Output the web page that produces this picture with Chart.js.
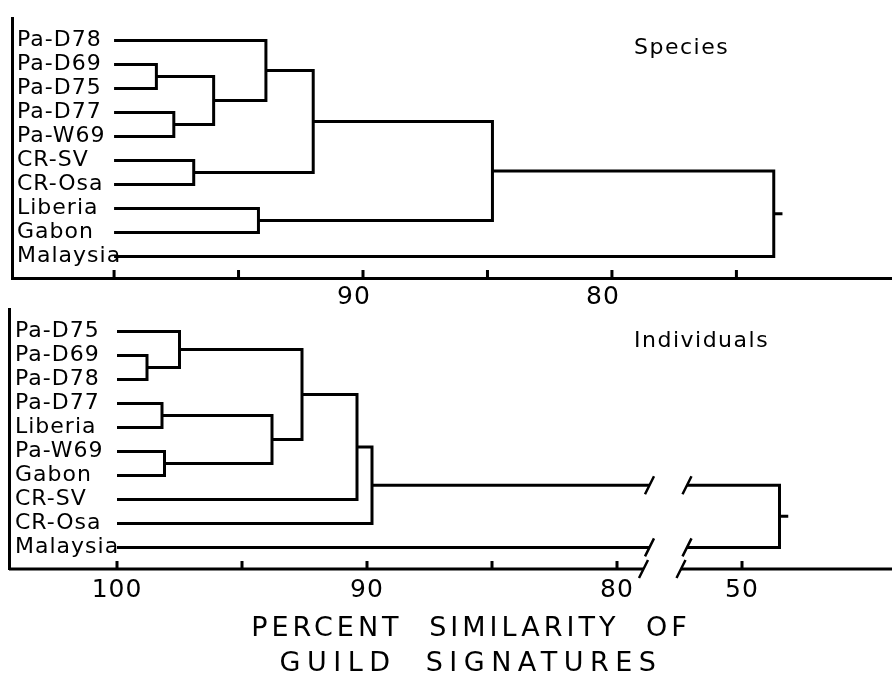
<!DOCTYPE html>
<html>
<head>
<meta charset="utf-8">
<script src="https://cdn.jsdelivr.net/npm/chart.js@4.4.1/dist/chart.umd.min.js"></script>
<style>
  body { margin: 0; background: #fff; width: 892px; height: 676px; position: relative; overflow: hidden; font-family: "DejaVu Sans", sans-serif; color: #000; }
  canvas { position: absolute; left: 0; }
  #top { top: 0; }
  #bot { top: 290px; }
  .tag { position: absolute; left: 634px; font-size: 22px; line-height: 22px; letter-spacing: 1.5px; }
  #axisTitle { position: absolute; left: 0; width: 942px; top: 609px; text-align: center; font-size: 27px; line-height: 35px; word-spacing: 14px; }
  #axisTitle span { display: block; }
</style>
</head>
<body>
<canvas id="top" width="892" height="312"></canvas>
<canvas id="bot" width="892" height="310"></canvas>
<div class="tag" style="top:36px">Species</div>
<div class="tag" style="top:329px">Individuals</div>
<div id="axisTitle"><span style="letter-spacing:4px">PERCENT SIMILARITY OF</span><span style="letter-spacing:6.5px">GUILD SIGNATURES</span></div>
<script>
// leaves in printed order, top to bottom
const speciesLeaves = ['Pa-D78', 'Pa-D69', 'Pa-D75', 'Pa-D77', 'Pa-W69', 'CR-SV', 'CR-Osa', 'Liberia', 'Gabon', 'Malaysia'];
// merges: [node a, node b, % similarity]; node < 10 is a leaf, 10 + k is merge k
const speciesMerges = [[1, 2, 98.3], [3, 4, 97.6], [5, 6, 96.8], [10, 11, 96.0], [7, 8, 94.2], [0, 13, 93.9], [15, 12, 92.0], [16, 14, 84.8], [17, 9, 73.5]];
const speciesTicks = [100, 95, 90, 85, 80, 75];
const speciesTickLabels = ['', '', '90', '', '80', ''];

const indivLeaves = ['Pa-D75', 'Pa-D69', 'Pa-D78', 'Pa-D77', 'Liberia', 'Pa-W69', 'Gabon', 'CR-SV', 'CR-Osa', 'Malaysia'];
const indivMerges = [[1, 2, 98.8], [3, 4, 98.2], [5, 6, 98.1], [0, 10, 97.5], [11, 12, 93.8], [13, 14, 92.6], [15, 7, 90.4], [16, 8, 89.8], [17, 9, 48.5]];
const indivTicks = [100, 95, 90, 85, 80, 50];
const indivTickLabels = ['100', '', '90', '', '80', '50'];
// broken axis in the lower panel: cut between 78.7 and 52.2
const indivBreak = [78.7, 52.2];
const breakShift = 25;

const stub = 0.35; // little tail on the root
const lineW = 3;

function dendrogram(leaves, merges, brk, disp) {
  const nodes = leaves.map((_, i) => ({ x: 100, y: i }));
  const pieces = [];
  let cur = [];
  const hseg = (x1, x2, y) => {
    cur.push({ x: disp(x1), y });
    if (brk && Math.min(x1, x2) < brk[1] && Math.max(x1, x2) > brk[0]) {
      const [p, q] = x1 > x2 ? [brk[0], brk[1]] : [brk[1], brk[0]];
      cur.push({ x: disp(p), y });
      pieces.push(cur);
      cur = [{ x: disp(q), y }];
    }
    cur.push({ x: disp(x2), y });
  };
  merges.forEach(([a, b, h]) => {
    const A = nodes[a], B = nodes[b];
    cur = [];
    hseg(A.x, h, A.y);
    hseg(h, B.x, B.y);
    pieces.push(cur);
    nodes.push({ x: h, y: (A.y + B.y) / 2 });
  });
  const root = nodes[nodes.length - 1];
  pieces.push([{ x: disp(root.x), y: root.y }, { x: disp(root.x - stub), y: root.y }]);
  return pieces;
}

function marks(ticks, disp, brk) {
  return {
    id: 'marks',
    beforeDraw(chart) { chart.ctx.letterSpacing = '1px'; },
    afterDraw(chart) {
      const { ctx, chartArea: a, scales: { x, y } } = chart;
      ctx.save();
      ctx.strokeStyle = '#000';
      ctx.lineWidth = lineW;
      ctx.beginPath();
      // tick marks point up into the plot
      ticks.forEach(v => {
        const px = x.getPixelForValue(disp(v));
        ctx.moveTo(px, a.bottom);
        ctx.lineTo(px, a.bottom - 8);
      });
      const cuts = [];
      if (brk) {
        const l = x.getPixelForValue(disp(brk[0]));
        const r = x.getPixelForValue(disp(brk[1]));
        ctx.moveTo(a.left, a.bottom); ctx.lineTo(l - 6, a.bottom);
        ctx.moveTo(r - 6, a.bottom); ctx.lineTo(a.right, a.bottom);
        cuts.push([l - 6, a.bottom], [r - 6, a.bottom]);
        chart.data.datasets.forEach(ds => ds.data.forEach(p => {
          if (p.x === disp(brk[0]) || p.x === disp(brk[1])) cuts.push([x.getPixelForValue(p.x), y.getPixelForValue(p.y)]);
        }));
      }
      ctx.stroke();
      ctx.lineWidth = 2.5;
      ctx.beginPath();
      cuts.forEach(([px, py]) => { ctx.moveTo(px - 4.5, py + 9); ctx.lineTo(px + 4.5, py - 9); });
      ctx.stroke();
      ctx.restore();
    }
  };
}

function panel(id, leaves, merges, ticks, tickLabels, o) {
  const disp = o.disp || (v => v);
  new Chart(document.getElementById(id), {
    type: 'line',
    data: {
      datasets: dendrogram(leaves, merges, o.brk, disp).map(d => ({
        data: d, borderColor: '#000', borderWidth: lineW, pointRadius: 0, tension: 0, fill: false, borderJoinStyle: 'miter'
      }))
    },
    options: {
      responsive: false, animation: false, devicePixelRatio: 1,
      layout: { padding: { top: 10, left: 0, right: 0, bottom: 0 } },
      plugins: { legend: { display: false }, tooltip: { enabled: false } },
      scales: {
        x: {
          type: 'linear', reverse: true, min: o.xmin, max: o.xmax,
          afterBuildTicks: s => { s.ticks = ticks.map(v => ({ value: disp(v) })); },
          afterFit: s => { s.height = o.xh; },
          grid: { display: false, drawTicks: false },
          border: { display: !o.brk, color: '#000', width: lineW },
          ticks: {
            autoSkip: false, maxRotation: 0, padding: o.tickPad, labelOffset: o.labelOffset, color: '#000',
            font: { family: 'DejaVu Sans', size: 25 },
            callback: (v, i) => tickLabels[i]
          }
        },
        y: {
          type: 'linear', reverse: true, min: -0.93, max: 9.9,
          afterBuildTicks: s => { s.ticks = leaves.map((_, i) => ({ value: i })); },
          afterFit: s => { s.width = o.yw; },
          grid: { display: false, drawTicks: false },
          border: { color: '#000', width: lineW },
          ticks: {
            mirror: true, autoSkip: false, padding: o.leafPad, color: '#000',
            font: { family: 'DejaVu Sans', size: 22 },
            callback: v => leaves[v]
          }
        }
      }
    },
    plugins: [marks(ticks, disp, o.brk)]
  });
}

panel('top', speciesLeaves, speciesMerges, speciesTicks, speciesTickLabels, {
  xmin: 68.75, xmax: 104.1, xh: 34, yw: 12, tickPad: 4, labelOffset: -9, leafPad: 5
});
panel('bot', indivLeaves, indivMerges, indivTicks, indivTickLabels, {
  xmin: 69.0, xmax: 104.32, xh: 31, yw: 9, tickPad: 6, labelOffset: 0, leafPad: 6,
  brk: indivBreak, disp: v => (v <= indivBreak[1] ? v + breakShift : v)
});
</script>
</body>
</html>
